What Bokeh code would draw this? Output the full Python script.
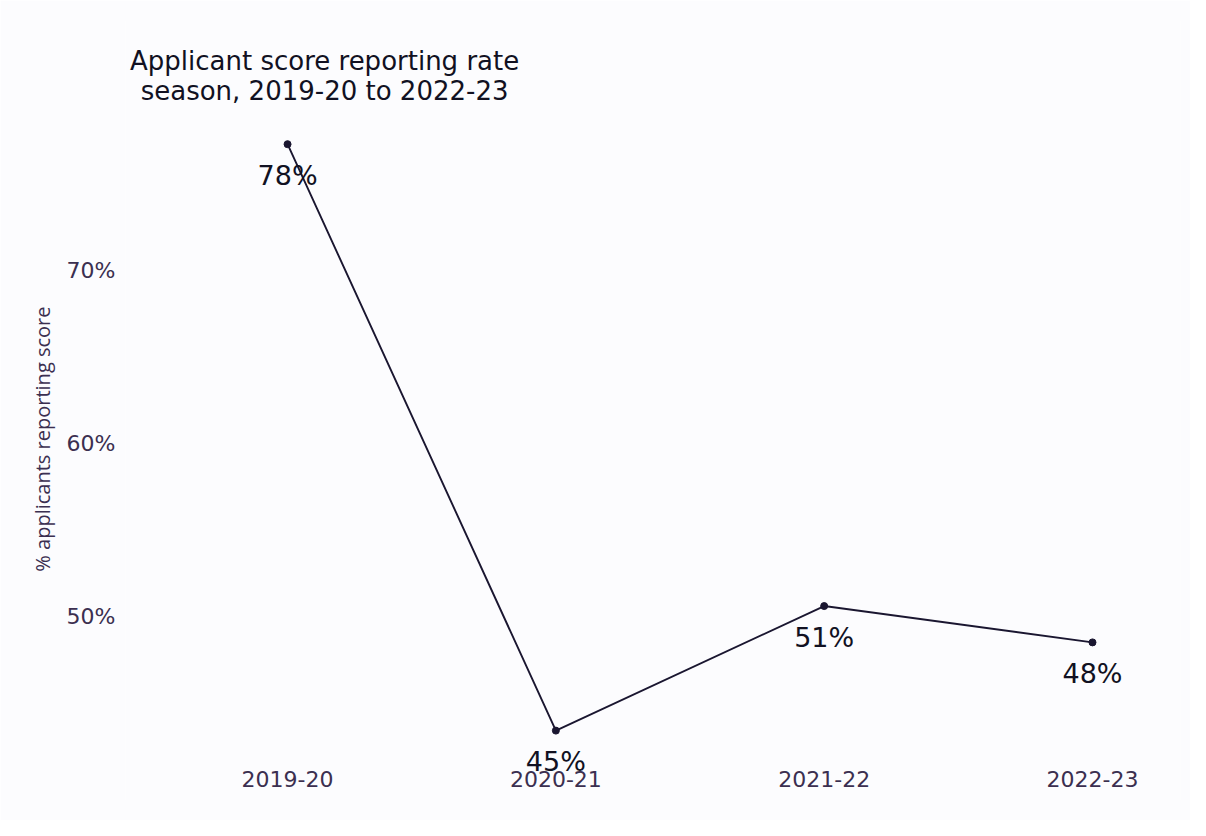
from bokeh.plotting import figure
from bokeh.models import FixedTicker, ColumnDataSource, Label
from bokeh.core.properties import value
from bokeh.embed import file_html
from bokeh.resources import INLINE

seasons = ["2019-20", "2020-21", "2021-22", "2022-23"]
rates = [77.3, 43.4, 50.6, 48.5]
rate_labels = ["78%", "45%", "51%", "48%"]
y_ticks = [50, 60, 70]
y_tick_labels = ["50%", "60%", "70%"]

xs = list(range(len(seasons)))
src = ColumnDataSource(dict(x=xs, y=rates, lab=rate_labels))

BG = "#fcfcfe"
TXT = "#3b2f50"
LINE = "#1a1630"

p = figure(width=1190, height=820, output_backend="svg", toolbar_location=None,
           x_range=(-0.604, 3.328), y_range=(39.36, 84.45),
           min_border_left=125, min_border_right=10, min_border_top=20, min_border_bottom=20,
           background_fill_color=BG, border_fill_color=BG, outline_line_color=None)

p.xgrid.visible = False
p.ygrid.visible = False

p.line("x", "y", source=src, line_color=LINE, line_width=1.9)
p.scatter("x", "y", source=src, size=7, color=LINE)
p.text("x", "y", text="lab", source=src, y_offset=31, text_align="center",
       text_baseline="middle", text_font_size="27px", text_color="#111122",
       text_font=value("DejaVu Sans"))

p.xaxis.ticker = FixedTicker(ticks=xs)
p.xaxis.major_label_overrides = {i: s for i, s in zip(xs, seasons)}
p.yaxis.ticker = FixedTicker(ticks=y_ticks)
p.yaxis.major_label_overrides = {t: s for t, s in zip(y_ticks, y_tick_labels)}

for ax in (p.xaxis[0], p.yaxis[0]):
    ax.axis_line_color = None
    ax.major_tick_line_color = None
    ax.minor_tick_line_color = None
    ax.major_tick_in = 0
    ax.major_tick_out = 0
    ax.minor_tick_in = 0
    ax.minor_tick_out = 0
    ax.major_label_text_color = TXT
    ax.major_label_text_font = "DejaVu Sans"
    ax.major_label_text_font_size = "22px"

p.xaxis.major_label_standoff = -30
p.yaxis.major_label_standoff = 10
p.yaxis.axis_label = "% applicants reporting score" + "\u00a0" * 11
p.yaxis.axis_label_text_font = "Open Sans"
p.yaxis.axis_label_text_font_style = "normal"
p.yaxis.axis_label_text_font_size = "20px"
p.yaxis.axis_label_text_color = TXT
p.yaxis.axis_label_standoff = 8

title = Label(x=0.138, y=81.25, text="Applicant score reporting rate\nseason, 2019-20 to 2022-23",
              text_align="center", text_baseline="middle", text_font="DejaVu Sans",
              text_font_size="26px", text_color="#111122", text_line_height=0.98)
p.add_layout(title)

open("out.html", "w").write(file_html(p, INLINE))
